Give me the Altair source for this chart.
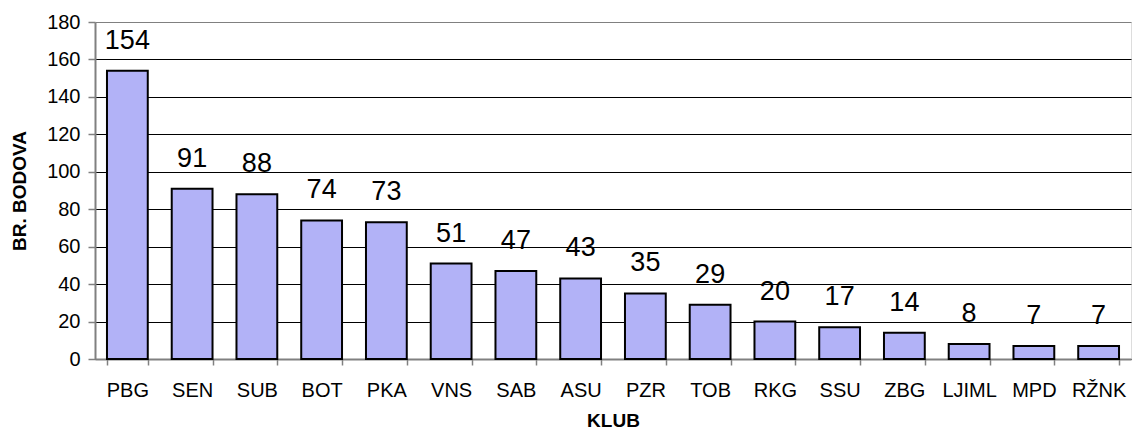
import altair as alt
import pandas as pd

clubs = ["PBG", "SEN", "SUB", "BOT", "PKA", "VNS", "SAB", "ASU", "PZR", "TOB",
         "RKG", "SSU", "ZBG", "LJIML", "MPD", "RŽNK"]
points = [154, 91, 88, 74, 73, 51, 47, 43, 35, 29, 20, 17, 14, 8, 7, 7]
y_ticks = [0, 20, 40, 60, 80, 100, 120, 140, 160, 180]

df = pd.DataFrame({"klub": clubs, "bodovi": points})

FONT = "Liberation Sans"

x = alt.X("klub:N", sort=clubs,
          scale=alt.Scale(paddingInner=0.37, paddingOuter=0.185),
          axis=alt.Axis(title="KLUB", labelAngle=0, tickBand="extent",
                        labelFontSize=20, labelFont=FONT, labelColor="black",
                        labelPadding=15, labelOverlap=False,
                        titleFontSize=19, titleFont=FONT, titleFontWeight="bold",
                        titleColor="black", titlePadding=11,
                        domainColor="#808080", domainWidth=2,
                        tickColor="#808080", tickSize=6, tickWidth=1.5,
                        grid=False))
y = alt.Y("bodovi:Q",
          scale=alt.Scale(domain=[0, 180], nice=False),
          axis=alt.Axis(title="BR. BODOVA", values=y_ticks, tickCount=10,
                        labelFontSize=20, labelFont=FONT, labelColor="black",
                        labelPadding=8, labelOverlap=False,
                        titleFontSize=19, titleFont=FONT, titleFontWeight="bold",
                        titleColor="black", titlePadding=17,
                        domainColor="#808080", domainWidth=2,
                        tickColor="#808080", tickSize=7, tickWidth=1.5,
                        grid=True,
                        gridColor=alt.condition("datum.value == 180",
                                                alt.value("#808080"),
                                                alt.value("black")),
                        gridWidth=1, gridOpacity=1))

bars = alt.Chart(df).mark_bar(color="#b2b2f7", stroke="black", strokeWidth=2).encode(x=x, y=y)
labels = alt.Chart(df).mark_text(fontSize=27, font=FONT, color="black",
                                 baseline="alphabetic", dy=-22).encode(
    x=x, y=y, text="bodovi:Q")

chart = alt.layer(bars, labels).properties(
    width=1036, height=337,
    autosize=alt.AutoSizeParams(type="none"),
    padding={"left": 87, "top": 14, "right": 1, "bottom": 70},
).configure_view(stroke="#808080", strokeWidth=2).configure(background="white")

chart.save("out.html", embed_options={"renderer": "svg", "actions": False})
